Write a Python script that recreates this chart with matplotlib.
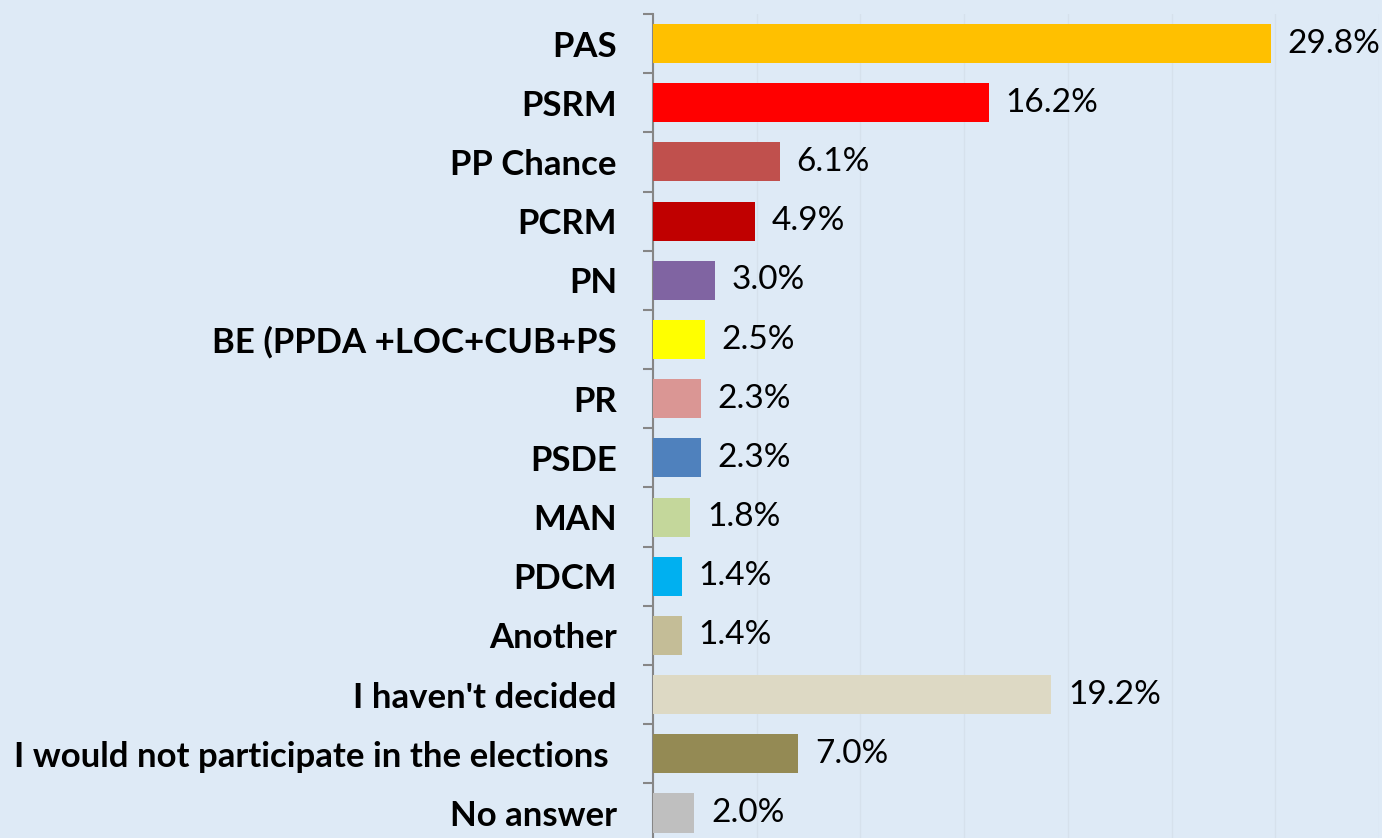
import numpy as np
import matplotlib.pyplot as plt
from matplotlib.ticker import MultipleLocator

parties = ['PAS', 'PSRM', 'PP Chance', 'PCRM', 'PN', 'BE (PPDA +LOC+CUB+PS',
           'PR', 'PSDE', 'MAN', 'PDCM', 'Another', "I haven't decided",
           'I would not participate in the elections ', 'No answer']
values = [29.8, 16.2, 6.1, 4.9, 3.0, 2.5, 2.3, 2.3, 1.8, 1.4, 1.4, 19.2, 7.0, 2.0]
colors = ['#FFC000', '#FF0000', '#C0504D', '#C00000', '#8064A2', '#FFFF00',
          '#DA9694', '#4F81BD', '#C4D79B', '#00B0F0', '#C4BD97', '#DDD9C4',
          '#948A54', '#BFBFBF']

bg = '#DEEAF6'
plt.rcParams['font.family'] = ['Lato', 'DejaVu Sans']

fig = plt.figure(figsize=(13.82, 8.38), dpi=100, facecolor=bg)
ax = fig.add_axes([653 / 1382, -4.6 / 838, (1379 - 653) / 1382, 828.6 / 838])
ax.set_facecolor(bg)

y = np.arange(len(parties))
ax.barh(y, values, height=0.66, color=colors, zorder=3)
for yi, v in zip(y, values):
    ax.annotate(f'{v:.1f}%', (v, yi), xytext=(12, 0), textcoords='offset points',
                va='center', ha='left', fontsize=24, color='black')

ax.set_xlim(0, 35)
ax.set_ylim(len(parties) - 0.5, -0.5)
ax.xaxis.set_major_locator(MultipleLocator(5))
ax.grid(axis='x', color='#D6E1EC', linewidth=1.0, zorder=0)
ax.tick_params(axis='x', length=0, labelbottom=False)

ax.set_yticks(y)
ax.set_yticklabels(parties, fontsize=25, fontweight='bold')
ax.set_yticks(np.arange(len(parties) + 1) - 0.5, minor=True)
ax.tick_params(axis='y', which='major', length=0, pad=26)
ax.tick_params(axis='y', which='minor', length=7, width=1.5, color='#868686')

for s in ['top', 'right', 'bottom']:
    ax.spines[s].set_visible(False)
ax.spines['left'].set_color('#868686')
ax.spines['left'].set_linewidth(1.5)

fig.savefig('out.png', dpi=100, facecolor=bg)
